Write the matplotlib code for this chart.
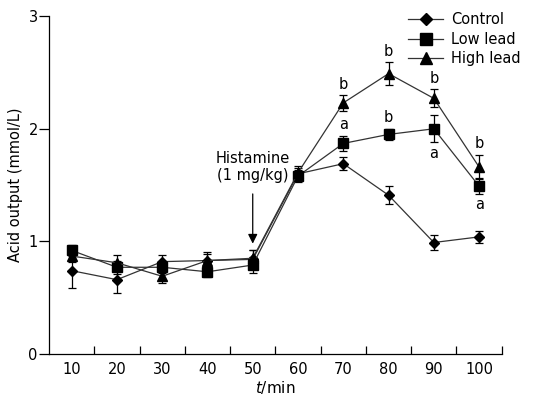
import matplotlib.pyplot as plt
from matplotlib.ticker import FixedLocator

times = [10, 20, 30, 40, 50, 60, 70, 80, 90, 100]

control = [0.74, 0.66, 0.82, 0.83, 0.84, 1.60, 1.69, 1.41, 0.99, 1.04]
control_err = [0.15, 0.12, 0.06, 0.08, 0.08, 0.05, 0.06, 0.08, 0.07, 0.05]

low_lead = [0.92, 0.77, 0.77, 0.73, 0.79, 1.58, 1.87, 1.95, 2.00, 1.49]
low_err = [0.05, 0.06, 0.05, 0.05, 0.07, 0.05, 0.07, 0.05, 0.12, 0.07]

high_lead = [0.87, 0.81, 0.69, 0.83, 0.85, 1.61, 2.23, 2.49, 2.27, 1.66]
high_err = [0.05, 0.07, 0.06, 0.06, 0.07, 0.06, 0.07, 0.10, 0.08, 0.11]

# significance letters: (index, series, letter, above?)
sig_marks = [
    (6, "high", "b", True), (7, "high", "b", True), (8, "high", "b", True), (9, "high", "b", True),
    (6, "low", "a", True), (7, "low", "b", True), (8, "low", "a", False), (9, "low", "a", False),
]

plt.rcParams["font.family"] = ["DejaVu Sans"]
plt.rcParams["font.size"] = 10

fig = plt.figure(figsize=(5.46, 4.05), dpi=100)
ax = fig.add_axes([0.0897, 0.126, 0.8293, 0.834])

x = list(range(len(times)))
series = {
    "Control": (control, control_err, "D", 5),
    "Low lead": (low_lead, low_err, "s", 6.5),
    "High lead": (high_lead, high_err, "^", 7),
}
handles = []
for name, (vals, errs, mk, ms) in series.items():
    ax.errorbar(x, vals, yerr=errs, fmt="none", ecolor="black", elinewidth=0.9,
                capsize=3, capthick=0.9, zorder=2)
    h, = ax.plot(x, vals, color="#333333", lw=0.9, marker=mk, ms=ms,
                 mfc="black", mec="black", label=name, zorder=3)
    handles.append(h)

lookup = {"high": (high_lead, high_err), "low": (low_lead, low_err)}
for i, s, letter, above in sig_marks:
    vals, errs = lookup[s]
    if above:
        ax.text(i, vals[i] + errs[i] + 0.03, letter, ha="center", va="bottom", fontsize=10.5)
    else:
        ax.text(i, vals[i] - errs[i] - 0.03, letter, ha="center", va="top", fontsize=10.5)

ax.annotate("Histamine\n(1 mg/kg)", xy=(4, 0.98), xytext=(4, 1.52),
            ha="center", va="bottom", fontsize=10.5, linespacing=1.15,
            arrowprops=dict(arrowstyle="-|>", color="black", lw=0.9,
                            mutation_scale=14, shrinkA=6, shrinkB=0))

ax.set_xlim(-0.5, 9.5)
ax.set_ylim(0, 3)
ax.set_xticks(x)
ax.set_xticklabels([str(t) for t in times])
ax.xaxis.set_minor_locator(FixedLocator([i + 0.5 for i in range(10)]))
ax.tick_params(axis="x", which="major", length=0, pad=6, labelsize=10.5)
ax.tick_params(axis="x", which="minor", direction="in", length=6, width=0.9)
ax.set_yticks([0, 1, 2, 3])
ax.tick_params(axis="y", direction="out", length=7, width=0.9, pad=1, labelsize=10.5)
ax.spines["top"].set_visible(False)
ax.spines["right"].set_visible(False)
for sp in ("left", "bottom"):
    ax.spines[sp].set_linewidth(0.9)

ax.set_xlabel("$t$/min", fontsize=11, labelpad=1)
ax.set_ylabel("Acid output (mmol/L)", fontsize=10.5, labelpad=4)

ax.legend(handles=handles, loc="upper right", bbox_to_anchor=(1.07, 1.05),
          frameon=False, handlelength=2.4, handletextpad=0.5, markerscale=1.25,
          labelspacing=0.3, fontsize=10.5)

fig.savefig("out.png", dpi=100)
